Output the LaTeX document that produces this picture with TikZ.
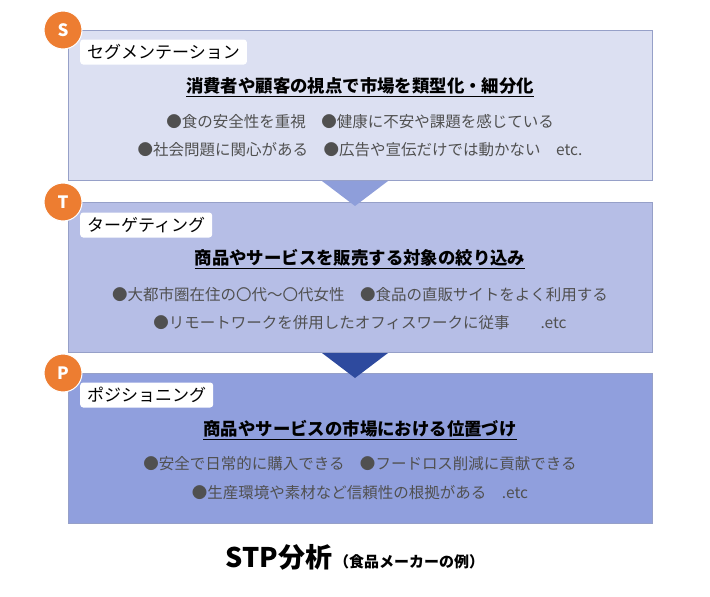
\documentclass[tikz,border=0pt]{standalone}
\usepackage{fontspec}
\setmainfont{Noto Sans CJK JP}
\definecolor{cstepA}{RGB}{220,224,242}
\definecolor{cstepB}{RGB}{182,190,230}
\definecolor{cstepC}{RGB}{144,159,221}
\definecolor{carrowA}{RGB}{142,158,218}
\definecolor{carrowB}{RGB}{46,74,158}
\definecolor{cframe}{RGB}{150,160,200}
\definecolor{corange}{RGB}{237,125,49}
\definecolor{ctext}{RGB}{80,80,80}
\tikzset{
  stepbox/.style={draw=cframe, line width=0.6pt},
  badge/.style={circle, fill=corange, draw=white, line width=1pt, minimum size=38pt, inner sep=0pt, text=white, font=\bfseries\fontsize{17}{17}\selectfont},
  tag/.style={fill=white, rounded corners=3pt, anchor=west, minimum height=25pt, inner xsep=7pt, font=\fontsize{17}{18}\selectfont},
  heading/.style={font=\bfseries\fontsize{17.4}{18}\selectfont},
  bullets/.style={text=ctext, font=\fontsize{15.5}{16}\selectfont},
}
\begin{document}
\begin{tikzpicture}[x=1pt, y=-1pt]
  \useasboundingbox[fill=white] (0,0) rectangle (710,597);

  % boxes
  \path[stepbox, fill=cstepA] (68,30) rectangle (652,180);
  \path[stepbox, fill=cstepB] (68,202) rectangle (652,352);
  \path[stepbox, fill=cstepC] (68,373) rectangle (652,523);

  % arrows between the boxes
  \path[fill=carrowA] (322,181) -- (388,181) -- (355,206) -- cycle;
  \path[fill=carrowB] (322,353) -- (388,353) -- (355,378) -- cycle;

  % S
  \node[badge] (badgeS) at (63,30) {S};
  \node[tag] (tagS) at (80,52) {セグメンテーション};
  \node[heading] (headS) at (360,87) {\underline{消費者や顧客の視点で市場を類型化・細分化}};
  \node[bullets] (bulS1) at (360,122) {●食の安全性を重視\quad ●健康に不安や課題を感じている};
  \node[bullets] (bulS2) at (360,150) {●社会問題に関心がある\quad ●広告や宣伝だけでは動かない\quad etc.};

  % T
  \node[badge] (badgeT) at (63,202) {T};
  \node[tag] (tagT) at (80,225) {ターゲティング};
  \node[heading] (headT) at (360,259) {\underline{商品やサービスを販売する対象の絞り込み}};
  \node[bullets] (bulT1) at (360,295) {●大都市圏在住の〇代～〇代女性\quad ●食品の直販サイトをよく利用する};
  \node[bullets] (bulT2) at (360,323) {●リモートワークを併用したオフィスワークに従事\quad\quad .etc};

  % P
  \node[badge] (badgeP) at (63,373) {P};
  \node[tag] (tagP) at (80,395) {ポジショニング};
  \node[heading] (headP) at (360,430) {\underline{商品やサービスの市場における位置づけ}};
  \node[bullets] (bulP1) at (360,464) {●安全で日常的に購入できる\quad ●フードロス削減に貢献できる};
  \node[bullets] (bulP2) at (360,493) {●生産環境や素材など信頼性の根拠がある\quad .etc};

  \node (caption) at (355,557) {{\bfseries\fontsize{27}{27}\selectfont STP分析}\,{\bfseries\fontsize{15}{15}\selectfont（食品メーカーの例）}};
\end{tikzpicture}
\end{document}
